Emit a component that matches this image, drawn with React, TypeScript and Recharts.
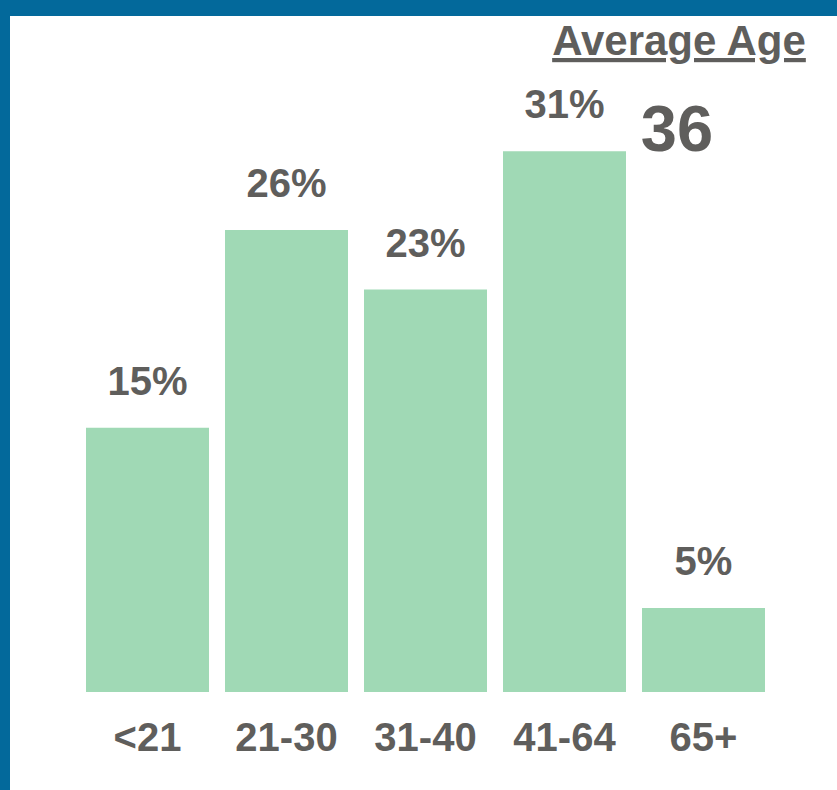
import React from "react";
import { BarChart, Bar, XAxis, YAxis, LabelList } from "recharts";

const ageGroups = ["<21", "21-30", "31-40", "41-64", "65+"];
const sharePct = [15.1, 26.4, 23.0, 30.9, 4.8];
const averageAge = 36;

const data = ageGroups.map((group, i) => ({ group, share: sharePct[i] }));

const TEXT = "#5F5E5C";
const BAR = "#A0D9B5";
const FONT = "'Liberation Sans', Arial, sans-serif";

const AgeTick = ({ x, y, payload }: any) => (
  <text
    x={x}
    y={y + 51}
    textAnchor="middle"
    fill={TEXT}
    fontSize={40}
    fontWeight="bold"
    fontFamily={FONT}
  >
    {payload.value}
  </text>
);

const PctLabel = ({ x, y, width, value }: any) => (
  <text
    x={x + width / 2}
    y={y - 33}
    textAnchor="middle"
    fill={TEXT}
    fontSize={40}
    fontWeight="bold"
    fontFamily={FONT}
  >
    {Math.round(value)}%
  </text>
);

export default function App() {
  return (
    <div
      style={{
        position: "absolute",
        left: 0,
        top: 0,
        width: 837,
        height: 790,
        background: "#03699B",
      }}
    >
      <div
        style={{
          position: "absolute",
          left: 10,
          top: 16,
          right: 0,
          bottom: 0,
          background: "#ffffff",
        }}
      />
      <div style={{ position: "absolute", left: 0, top: 0 }}>
        <BarChart
          width={837}
          height={790}
          data={data}
          margin={{ top: 79.5, right: 64, bottom: 38, left: 78 }}
        >
          <XAxis
            dataKey="group"
            height={60}
            axisLine={false}
            tickLine={false}
            tick={<AgeTick />}
            interval={0}
          />
          <YAxis hide domain={[0, 35]} />
          <Bar dataKey="share" fill={BAR} barSize={123} isAnimationActive={false}>
            <LabelList dataKey="share" content={<PctLabel />} />
          </Bar>
        </BarChart>
      </div>
      <svg
        width={837}
        height={170}
        style={{ position: "absolute", left: 0, top: 0, pointerEvents: "none" }}
      >
        <text
          x={679}
          y={55}
          textAnchor="middle"
          fill={TEXT}
          fontSize={42}
          fontWeight="bold"
          fontFamily={FONT}
          style={{ textDecoration: "underline" }}
        >
          Average Age
        </text>
        <text
          x={677}
          y={151}
          textAnchor="middle"
          fill={TEXT}
          fontSize={65}
          fontWeight="bold"
          fontFamily={FONT}
        >
          {averageAge}
        </text>
      </svg>
    </div>
  );
}
